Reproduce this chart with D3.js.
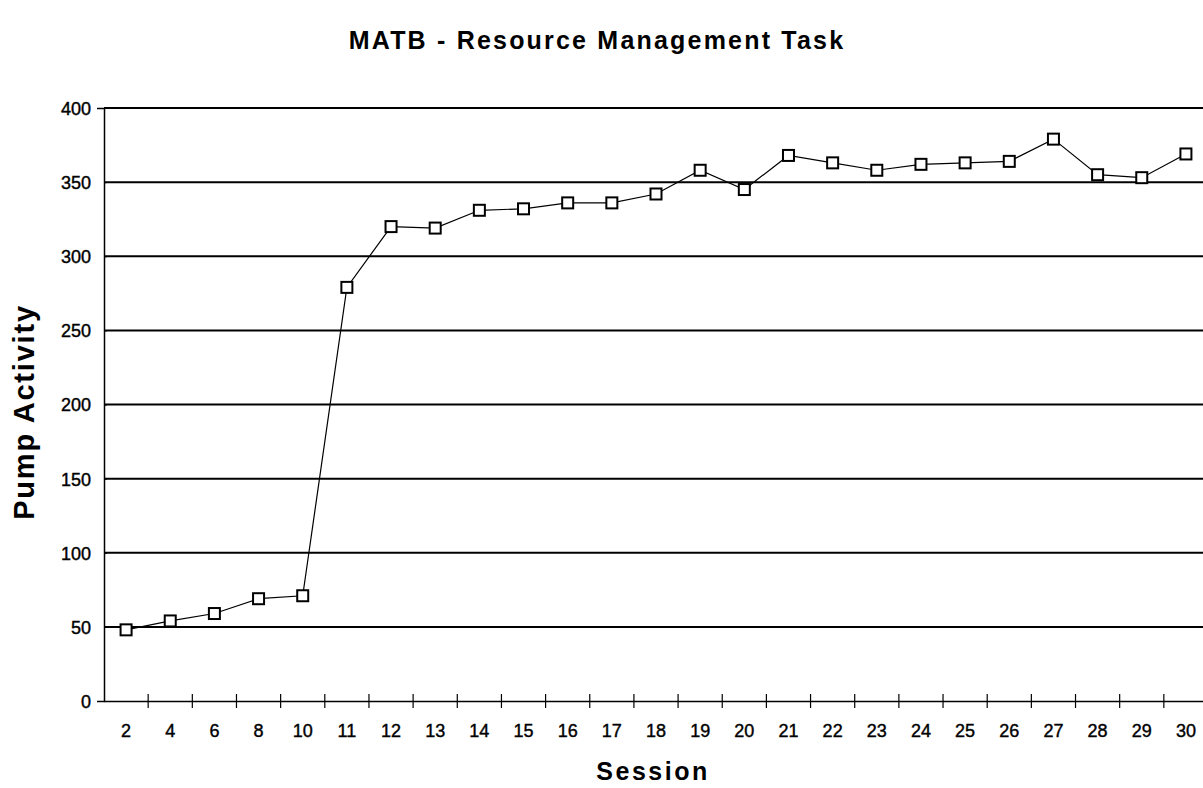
<!DOCTYPE html>
<html>
<head>
<meta charset="utf-8">
<script src="https://cdn.jsdelivr.net/npm/d3@7"></script>
<style>
  body { margin: 0; background: #fff; }
  svg { display: block; }
  text { font-family: Arial, "Liberation Sans", sans-serif; fill: #000; }
</style>
</head>
<body>
<div id="chart"></div>
<script>
const sessions = ["2","4","6","8","10","11","12","13","14","15","16","17","18","19","20","21","22","23","24","25","26","27","28","29","30"]
const pumpActivity = [48,54,59,69,71,279,320,319,331,332,336,336,342,358,345,368,363,358,362,363,364,379,355,353,369]
const yTicks = [0,50,100,150,200,250,300,350,400]

const width = 1203, height = 788
const margin = {left: 104, right: 1208, top: 108, bottom: 701}

const svg = d3.select("#chart")
	.append("svg")
	.attr("width", width)
	.attr("height", height)

const x = d3.scaleBand()
	.domain(sessions)
	.range([margin.left, margin.right])
	.padding(0)

const y = d3.scaleLinear()
	.domain([0, 400])
	.range([margin.bottom, margin.top])

// gridlines
svg.append("g")
	.selectAll("line")
	.data(yTicks.filter(d => d > 0))
	.enter()
	.append("line")
	.attr("x1", margin.left)
	.attr("x2", margin.right)
	.attr("y1", d => y(d))
	.attr("y2", d => y(d))
	.attr("stroke", "#000")
	.attr("stroke-width", 2)

// y axis
const yAxis = svg.append("g")
	.attr("transform", `translate(${margin.left},0)`)
	.call(d3.axisLeft(y).tickValues(yTicks).tickSize(7).tickPadding(6))
yAxis.select(".domain").attr("stroke-width", 1.5)
yAxis.selectAll(".tick line").attr("x2", 3)
yAxis.selectAll("text")
	.attr("dy", "0.36em")
	.style("font-size", "18px")
	.style("font-family", "Arial, 'Liberation Sans', sans-serif")
	.style("stroke", "#000")
	.style("stroke-width", 0.4)

// x axis labels
const xAxis = svg.append("g")
	.attr("transform", `translate(0,${margin.bottom})`)
	.call(d3.axisBottom(x).tickSize(0).tickPadding(30))
xAxis.select(".domain").attr("stroke-width", 1.5)
xAxis.selectAll("text")
	.attr("dy", "0.36em")
	.style("font-size", "18px")
	.style("font-family", "Arial, 'Liberation Sans', sans-serif")
	.style("stroke", "#000")
	.style("stroke-width", 0.4)

// x ticks between categories
svg.append("g")
	.selectAll("line")
	.data(sessions.slice(1))
	.enter()
	.append("line")
	.attr("x1", d => x(d))
	.attr("x2", d => x(d))
	.attr("y1", margin.bottom - 7)
	.attr("y2", margin.bottom + 7)
	.attr("stroke", "#000")
	.attr("stroke-width", 1.2)

// series line
const line = d3.line()
	.x((d, i) => x(sessions[i]) + x.bandwidth() / 2)
	.y(d => y(d))

svg.append("path")
	.datum(pumpActivity)
	.attr("d", line)
	.attr("fill", "none")
	.attr("stroke", "#000")
	.attr("stroke-width", 1.2)

// markers
const box = 11
svg.append("g")
	.selectAll("rect")
	.data(pumpActivity)
	.enter()
	.append("rect")
	.attr("x", (d, i) => x(sessions[i]) + x.bandwidth() / 2 - box / 2)
	.attr("y", d => y(d) - box / 2)
	.attr("width", box)
	.attr("height", box)
	.attr("fill", "#fff")
	.attr("stroke", "#000")
	.attr("stroke-width", 2)

// titles
svg.append("text")
	.attr("x", 597)
	.attr("y", 49)
	.attr("text-anchor", "middle")
	.style("font-size", "25px")
	.style("font-weight", "bold")
	.style("letter-spacing", "2.2px")
	.text("MATB - Resource Management Task")

svg.append("text")
	.attr("transform", "translate(34,412) rotate(-90)")
	.attr("text-anchor", "middle")
	.style("font-size", "29px")
	.style("font-weight", "bold")
	.style("letter-spacing", "1.8px")
	.text("Pump Activity")

svg.append("text")
	.attr("x", 653)
	.attr("y", 780)
	.attr("text-anchor", "middle")
	.style("font-size", "25px")
	.style("font-weight", "bold")
	.style("letter-spacing", "2.5px")
	.text("Session")
</script>
</body>
</html>
